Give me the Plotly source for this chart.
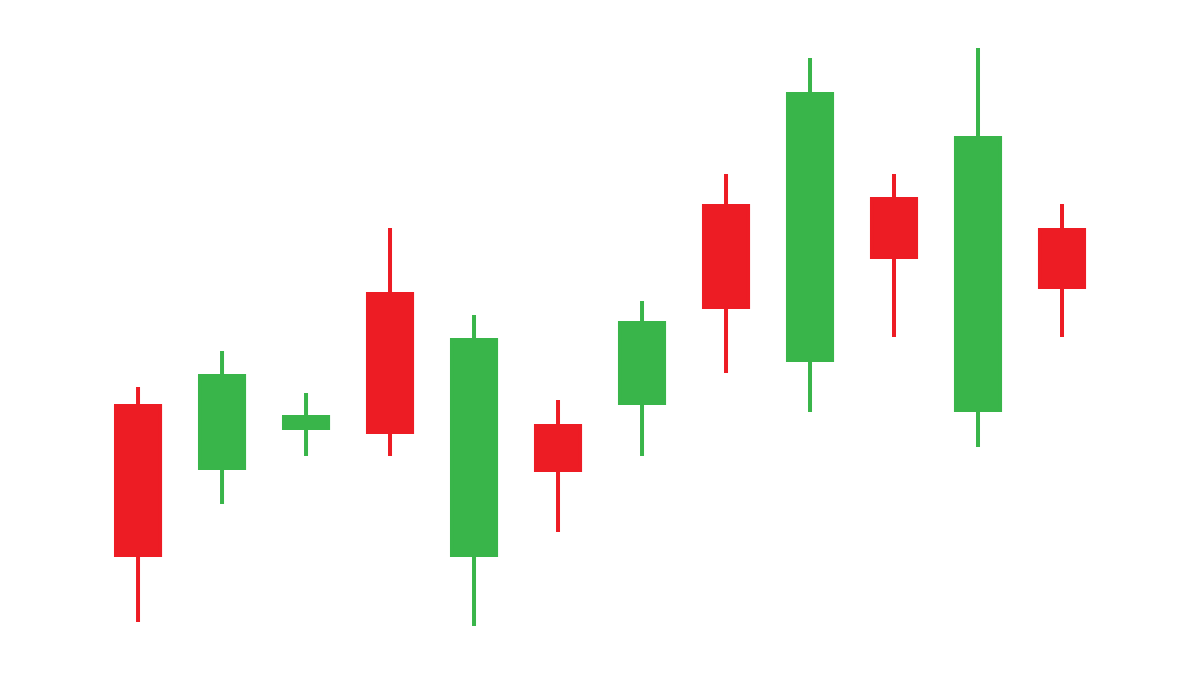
import plotly.graph_objects as go

days = list(range(12))
opens  = [269, 207, 247, 381, 120, 249, 272, 469, 315, 476, 265, 445]
highs  = [288, 324, 282, 447, 360, 275, 374, 501, 617, 501, 627, 471]
lows   = [53, 171, 219, 219, 49, 143, 219, 302, 263, 338, 228, 338]
closes = [120, 299, 258, 243, 335, 205, 352, 368, 581, 418, 537, 388]

fig = go.Figure(go.Candlestick(
    x=days, open=opens, high=highs, low=lows, close=closes,
    increasing=dict(line=dict(color="#39B54A", width=4), fillcolor="#39B54A"),
    decreasing=dict(line=dict(color="#ED1C24", width=4), fillcolor="#ED1C24"),
    whiskerwidth=0,
))
fig.update_layout(
    width=1200, height=675,
    margin=dict(l=0, r=0, t=0, b=0),
    paper_bgcolor="white", plot_bgcolor="white",
    showlegend=False,
    xaxis=dict(range=[-1.548, 12.738], visible=False, rangeslider=dict(visible=False)),
    yaxis=dict(range=[-8, 667], visible=False),
    boxgap=0.25,
)
fig.write_html("out.html")
